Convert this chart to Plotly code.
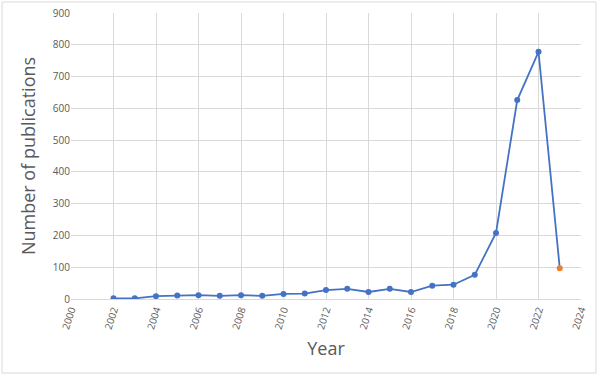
import plotly.graph_objects as go

years = list(range(2002, 2024))
counts = [2, 2, 9, 11, 12, 10, 12, 10, 16, 17, 28, 32, 22, 32, 22, 42, 45, 76, 208, 626, 778, 97]
point_colors = ["#4472C4"] * (len(years) - 1) + ["#ED7D31"]
x_ticks = list(range(2000, 2025, 2))
y_ticks = list(range(0, 901, 100))

W, H = 598, 376
L, R, T, B = 71, 17, 13, 77
pw, ph = W - L - R, H - T - B

fig = go.Figure()
fig.add_trace(go.Scatter(
    x=years, y=counts, mode="lines+markers",
    line=dict(color="#4472C4", width=1.8),
    marker=dict(color=point_colors, size=6),
    hoverinfo="x+y", showlegend=False,
))

font_fam = "Open Sans, Lato, sans-serif"
fig.update_layout(
    width=W, height=H,
    margin=dict(l=L, r=R, t=T, b=B, autoexpand=False),
    paper_bgcolor="white", plot_bgcolor="white",
    font=dict(family=font_fam, color="#595959"),
    xaxis=dict(
        range=[2000, 2024], tickvals=x_ticks, ticktext=[str(v) for v in x_ticks],
        tickangle=-72, tickfont=dict(size=10, color="#595959"),
        showgrid=True, gridcolor="#d9d9d9", gridwidth=1,
        showline=True, linecolor="#d9d9d9", zeroline=False, automargin=False,
        title=dict(text="Year", font=dict(size=18, color="#595959"), standoff=12),
    ),
    yaxis=dict(
        range=[0, 900], tickvals=y_ticks,
        tickfont=dict(size=10, color="#595959"),
        showgrid=True, gridcolor="#d9d9d9", gridwidth=1,
        zeroline=False, showline=False, automargin=False,
        title=dict(text="Number of publications", font=dict(size=18, color="#595959"), standoff=12),
    ),
    shapes=[dict(
        type="rect", xref="paper", yref="paper",
        x0=(2 - L) / pw, x1=(W - 2 - L) / pw,
        y0=(H - B - (H - 3)) / ph, y1=(H - B - 2) / ph,
        line=dict(color="#d9d9d9", width=1), fillcolor="rgba(0,0,0,0)", layer="below",
    )],
)

fig.write_html(
    "out.html",
    config={"displayModeBar": False},
    post_script="document.body.style.margin='0';document.body.style.overflow='hidden';",
)
